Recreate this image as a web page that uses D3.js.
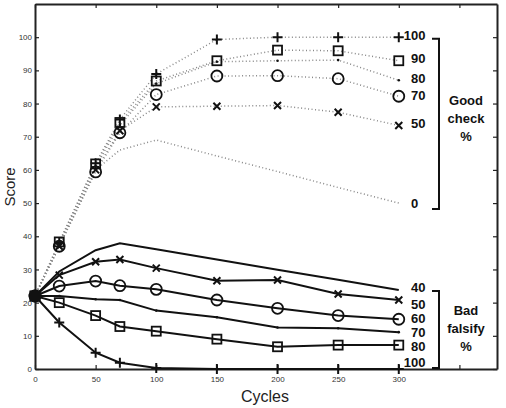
<!DOCTYPE html>
<html>
<head>
<meta charset="utf-8">
<script src="https://cdn.jsdelivr.net/npm/d3@7"></script>
<style>
  body { margin: 0; background: white; }
  svg { font-family: "Liberation Sans", Arial, sans-serif; }
</style>
</head>
<body>
<div id="chart"></div>
<script>
// data
const cycles = [0, 20, 50, 70, 100, 150, 200, 250, 300];

// "Good check %" series (dotted)
const goodLabels = ["100", "90", "80", "70", "50", "0"];
const goodMarkers = ["plus", "square", "dot", "circle", "cross", "none"];
const good100 = [22, 38, 62, 75.2, 88.9, 99.3, 100, 100, 100];
const good90 = [22, 38.3, 61.8, 74.3, 86.8, 92.9, 96.1, 95.9, 92.9];
const good80 = [22, 38, 61, 73.5, 86, 92.6, 92.9, 93.1, 87.0];
const good70 = [22, 37, 59.4, 71.2, 82.7, 88.3, 88.4, 87.5, 82.2];
const good50 = [22, 37, 60, 71.8, 79.0, 79.2, 79.4, 77.4, 73.4];
const good0 = [22, 37, 60, 66, 69, 64.2, 59.5, 54.7, 50];

// "Bad falsify %" series (solid)
const badLabels = ["40", "50", "60", "70", "80", "100"];
const badMarkers = ["none", "cross", "circle", "dot", "square", "plus"];
const bad40 = [22, 29.4, 35.8, 37.9, 36.1, 33.0, 29.9, 26.9, 23.8];
const bad50 = [22, 28.3, 32.3, 33.0, 30.4, 26.6, 26.8, 22.6, 20.8];
const bad60 = [22, 25.0, 26.5, 25.1, 24.0, 20.8, 18.3, 16.1, 15.0];
const bad70 = [22, 22.0, 21.0, 20.8, 17.6, 15.6, 12.5, 12.3, 11.1];
const bad80 = [22, 20.0, 16.1, 12.8, 11.4, 9.0, 6.7, 7.2, 7.2];
const bad100 = [22, 14.0, 4.9, 1.9, 0.3, 0, 0, 0, 0];

const xTicks = [0, 50, 100, 150, 200, 250, 300];
const xTicksAll = [0, 50, 100, 150, 200, 250, 300, 350];
const yTicks = [0, 10, 20, 30, 40, 50, 60, 70, 80, 90, 100];

const goodSeries = [good100, good90, good80, good70, good50, good0];
const badSeries = [bad40, bad50, bad60, bad70, bad80, bad100];

const width = 506, height = 408,
      margin = ({ top: 4, right: 9, bottom: 39, left: 35 });

const svg = d3.select("#chart")
  .append("svg")
  .attr("width", width)
  .attr("height", height);

const x = d3.scaleLinear()
  .domain([0, 381])
  .range([margin.left, width - margin.right]);

const y = d3.scaleLinear()
  .domain([0, 110])
  .range([height - margin.bottom, margin.top]);

// axes with inward ticks on all four sides
svg.append("g")
  .attr("transform", `translate(0,${y(0)})`)
  .call(d3.axisBottom(x).tickValues(xTicksAll).tickSizeInner(-4).tickSizeOuter(0)
    .tickFormat(d => xTicks.includes(d) ? d : ""))
  .call(g => g.selectAll("text").attr("dy", "1.3em").attr("font-size", 8).attr("fill", "#333"));

svg.append("g")
  .attr("transform", `translate(0,${y(110)})`)
  .call(d3.axisTop(x).tickValues(xTicksAll).tickSizeInner(-4).tickSizeOuter(0).tickFormat(""));

svg.append("g")
  .attr("transform", `translate(${x(0)},0)`)
  .call(d3.axisLeft(y).tickValues(yTicks).tickSizeInner(-4).tickSizeOuter(0))
  .call(g => g.selectAll("text").attr("x", -3).attr("font-size", 8).attr("fill", "#333"));

svg.append("g")
  .attr("transform", `translate(${x(381)},0)`)
  .call(d3.axisRight(y).tickValues(yTicks).tickSizeInner(-4).tickSizeOuter(0).tickFormat(""));

svg.selectAll(".domain").attr("stroke", "#222").attr("stroke-width", 2);
svg.selectAll(".tick line").attr("stroke", "#222").attr("stroke-width", 1.2);

const line = d3.line()
  .x((d, i) => x(cycles[i]))
  .y(d => y(d));

// good check: dotted grey
svg.append("g")
  .selectAll("path")
  .data(goodSeries)
  .join("path")
  .attr("fill", "none")
  .attr("stroke", "#888")
  .attr("stroke-width", 1.5)
  .attr("stroke-dasharray", "1,2.5")
  .attr("d", line);

// bad falsify: solid black
svg.append("g")
  .selectAll("path")
  .data(badSeries)
  .join("path")
  .attr("fill", "none")
  .attr("stroke", "#111")
  .attr("stroke-width", 2)
  .attr("d", line);

function drawMarker(g, type, cx, cy) {
  if (type === "plus") {
    g.append("path").attr("d", `M${cx - 5},${cy}H${cx + 5}M${cx},${cy - 5}V${cy + 5}`)
      .attr("stroke", "#111").attr("stroke-width", 2);
  } else if (type === "cross") {
    g.append("path").attr("d", `M${cx - 3.5},${cy - 3.5}L${cx + 3.5},${cy + 3.5}M${cx - 3.5},${cy + 3.5}L${cx + 3.5},${cy - 3.5}`)
      .attr("stroke", "#111").attr("stroke-width", 2);
  } else if (type === "square") {
    g.append("rect").attr("x", cx - 4.5).attr("y", cy - 4.5).attr("width", 9).attr("height", 9)
      .attr("fill", "none").attr("stroke", "#111").attr("stroke-width", 1.8);
  } else if (type === "circle") {
    g.append("circle").attr("cx", cx).attr("cy", cy).attr("r", 5.5)
      .attr("fill", "none").attr("stroke", "#111").attr("stroke-width", 1.8);
  } else if (type === "dot") {
    g.append("circle").attr("cx", cx).attr("cy", cy).attr("r", 1.3).attr("fill", "#111");
  }
}

const markers = svg.append("g");
goodSeries.forEach((s, k) => {
  s.forEach((v, i) => drawMarker(markers, goodMarkers[k], x(cycles[i]), y(v)));
});
badSeries.forEach((s, k) => {
  s.forEach((v, i) => drawMarker(markers, badMarkers[k], x(cycles[i]), y(v)));
});
// blob at the common start point
markers.append("rect")
  .attr("x", x(0) - 5).attr("y", y(22) - 5).attr("width", 10).attr("height", 10)
  .attr("fill", "#111");

// series labels at the right
const goodLabelY = [37, 60, 80, 97, 125, 205];
const badLabelY = [289, 306, 320, 334, 348, 364];

svg.append("g")
  .attr("font-size", 13)
  .attr("font-weight", "bold")
  .attr("fill", "#111")
  .selectAll("text")
  .data(goodLabels)
  .join("text")
  .attr("x", (d, i) => i === 0 ? x(300) + 5 : 411)
  .attr("y", (d, i) => goodLabelY[i])
  .attr("dominant-baseline", "middle")
  .text(d => d);

svg.append("g")
  .attr("font-size", 13)
  .attr("font-weight", "bold")
  .attr("fill", "#111")
  .selectAll("text")
  .data(badLabels)
  .join("text")
  .attr("x", (d, i) => i === 5 ? x(300) + 5 : 411)
  .attr("y", (d, i) => badLabelY[i])
  .attr("dominant-baseline", "middle")
  .text(d => d);

// brackets
const bx = 439;
svg.append("path")
  .attr("d", `M${bx - 7},${y(99.5)}H${bx}V${209}H${bx - 7}`)
  .attr("fill", "none").attr("stroke", "#111").attr("stroke-width", 2);
svg.append("path")
  .attr("d", `M${bx - 7},${291}H${bx}V${y(0) - 1}H${bx - 7}`)
  .attr("fill", "none").attr("stroke", "#111").attr("stroke-width", 2);

svg.append("text")
  .attr("font-size", 13).attr("font-weight", "bold").attr("text-anchor", "middle").attr("fill", "#111")
  .selectAll("tspan")
  .data(["Good", "check", "%"])
  .join("tspan")
  .attr("x", 466)
  .attr("y", (d, i) => 105 + i * 18)
  .text(d => d);

svg.append("text")
  .attr("font-size", 13).attr("font-weight", "bold").attr("text-anchor", "middle").attr("fill", "#111")
  .selectAll("tspan")
  .data(["Bad", "falsify", "%"])
  .join("tspan")
  .attr("x", 466)
  .attr("y", (d, i) => 315 + i * 18)
  .text(d => d);

// axis titles
svg.append("text")
  .attr("x", 265).attr("y", 402)
  .attr("text-anchor", "middle")
  .attr("font-size", 16)
  .attr("fill", "#222")
  .text("Cycles");

svg.append("text")
  .attr("transform", `translate(15,${187}) rotate(-90)`)
  .attr("text-anchor", "middle")
  .attr("font-size", 15)
  .attr("fill", "#222")
  .text("Score");
</script>
</body>
</html>
